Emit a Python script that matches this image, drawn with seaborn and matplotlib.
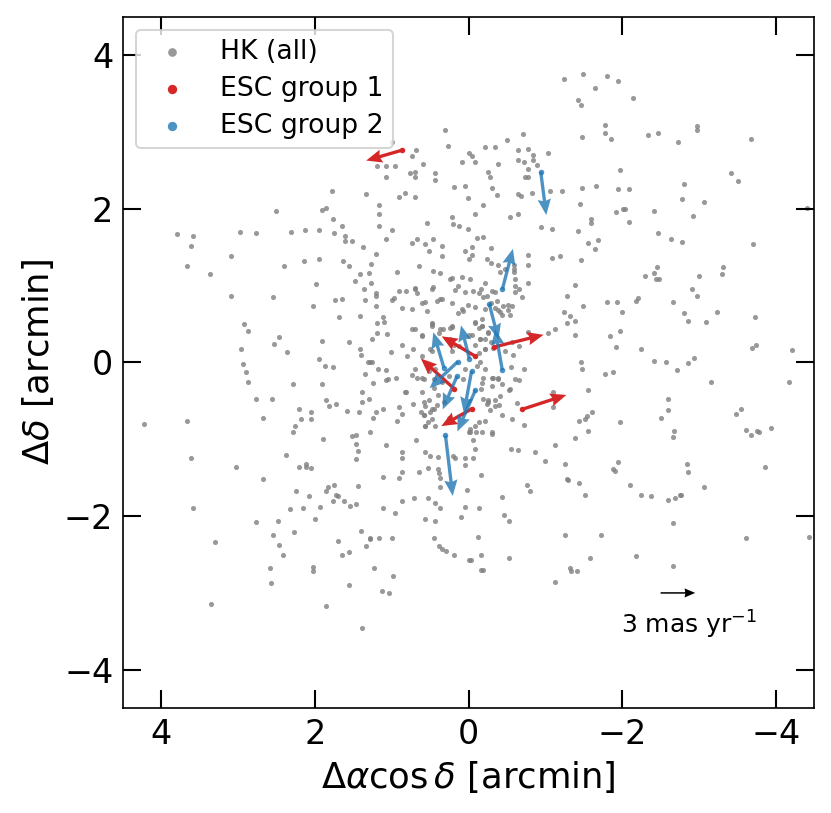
import numpy as np
import seaborn as sns
import matplotlib.pyplot as plt

# HK members (offsets in arcmin)
nw_x = [0.30, 0.27, 0.00, 1.00, 0.68, 0.73, 0.09, 1.19, 1.08, 0.96,
        1.08, 0.76, 0.69, 0.69, 0.59, 0.44, 0.43, 0.19, 0.04, 0.01,
        1.78, 1.33, 0.91, 0.83, 0.69, 1.16, 1.16, 1.16, 0.99, 1.86,
        1.91, 2.50, 1.77, 1.65, 0.54, 0.22, 0.20, 0.12, 0.01, 3.80,
        3.58, 3.61, 2.97, 2.77, 2.31, 2.13, 1.95, 1.75, 1.61, 1.61,
        1.52, 1.37, 1.08, 0.74, 0.67, 0.56, 0.46, 0.34, 0.52, 0.35,
        0.05, 0.00, 3.67, 3.37, 3.09, 2.40, 2.14, 1.95, 1.63, 1.56,
        1.20, 1.27, 1.41, 1.29, 1.27, 1.48, 1.36, 1.98, 0.93, 0.65,
        0.46, 0.37, 0.21, 0.09, 3.09, 2.55, 2.02, 1.74, 1.65, 1.35,
        1.20, 1.20, 1.21, 0.99, 0.97, 0.90, 0.82, 0.69, 0.67, 0.57,
        0.46, 0.37, 0.34, 0.18, 0.04, 0.01, 0.09, 0.14, 0.87, 0.74,
        1.68, 1.41, 1.11, 1.10, 1.19, 0.74, 0.70, 0.47, 0.37, 0.33,
        0.22, 2.92, 2.87, 2.47, 2.53, 1.91, 1.56, 1.26, 1.19, 1.06,
        0.87, 0.72, 1.01, 1.41, 1.40, 1.28, 2.36, 2.96, 1.95,
        0.24, 0.14, 0.69, 0.48, 0.60, 0.41, 0.54, 0.22, 0.07, 0.48,
        0.24, 0.60, 0.48, 0.19, 0.80]
nw_y = [3.03, 2.82, 2.73, 2.87, 2.76, 2.69, 2.61, 2.56, 2.56, 2.55,
        2.41, 2.46, 2.48, 2.41, 2.58, 2.46, 2.37, 2.28, 2.30, 2.14,
        2.23, 2.19, 2.15, 2.21, 2.15, 2.05, 1.93, 1.78, 1.72, 2.01,
        1.98, 1.97, 1.87, 1.77, 1.82, 1.89, 1.80, 1.77, 1.74, 1.67,
        1.64, 1.51, 1.70, 1.69, 1.70, 1.72, 1.72, 1.68, 1.65, 1.58,
        1.58, 1.50, 1.60, 1.55, 1.60, 1.54, 1.60, 1.52, 1.45, 1.39,
        1.45, 1.35, 1.26, 1.15, 1.38, 1.25, 1.32, 1.34, 1.32, 1.26,
        1.41, 1.28, 1.15, 1.16, 1.03, 1.06, 0.96, 1.02, 1.17, 1.25,
        1.19, 1.16, 1.10, 1.11, 0.86, 0.85, 0.74, 0.81, 0.83, 0.81,
        0.90, 0.86, 0.74, 0.81, 0.84, 0.93, 0.93, 0.97, 0.90, 0.78,
        0.98, 0.82, 0.82, 0.94, 0.91, 0.75, 0.70, 0.64, 0.71, 0.70,
        0.59, 0.61, 0.59, 0.53, 0.51, 0.44, 0.43, 0.50, 0.43, 0.44,
        0.46, 0.50, 0.41, 0.33, 0.24, 0.28, 0.26, 0.30, 0.38, 0.37,
        0.22, 0.18, 0.13, 0.18, 0.10, 0.01, 0.13, 0.18, 0.05,
        1.08, 0.99, 0.95, 0.96, 0.77, 0.80, 0.67, 0.77, 0.67, 0.47,
        0.45, 0.34, 0.15, 0.22, 0.08]

ne_x = [-1.24, -1.49, -1.80, -1.95, -1.64, -2.14, -1.43, -1.46, -1.78, -1.77,
        -1.86, -1.48, -2.33, -2.47, -2.73, -2.97, -2.97, -3.67, -0.71, -0.50,
        -0.22, -0.35, -0.04, -0.08, -0.38, -0.65, -0.78, -0.84, -1.03, -0.65,
        -0.72, -0.84, -0.89, -0.78, -0.25, -0.28, -0.73, -0.78, -0.30, -0.37,
        -0.64, -0.68, -0.82, -1.06, -1.22, -1.48, -1.66, -1.95, -2.09, -1.97,
        -2.80, -3.41, -3.51, -2.78, -3.06, -2.92, -2.41, -1.92, -2.01, -2.04,
        -2.09, -1.60, -1.59, -1.45, -1.42, -1.55, -1.65, -1.69, -1.47, -2.47,
        -2.63, -2.78, -3.70, -4.41, -0.94, -1.09, -0.54, -0.64, -0.09, -0.19,
        -0.11, -0.19, -0.29, -0.04, -0.04, -0.24, -0.29, -0.39, -0.41, -0.48,
        -0.59, -0.59, -0.59, -0.61, -0.78, -0.78, -1.09, -1.19, -0.78, -0.60,
        -0.66, -0.70, -0.60, -0.02, -0.06, -0.16, -0.21, -0.19, -0.24, -0.30,
        -0.34, -0.37, -0.39, -0.45, -0.52, -0.43, -0.34, -0.08, -0.09, -0.17,
        -0.01, -0.15, -0.25, -0.29, -0.47, -0.66, -0.77, -1.03, -1.13, -1.28,
        -1.39, -1.49, -1.24, -1.32, -1.39, -1.28, -1.38, -1.80, -1.93, -2.00,
        -2.18, -2.21, -1.84, -1.97, -1.92, -2.25, -2.30, -2.41, -2.45, -2.44,
        -2.48, -2.66, -2.81, -2.86, -2.91, -2.97, -3.00, -3.09, -3.24, -3.31,
        -3.30, -3.73, -3.69, -3.74, -4.21, -2.93, -0.51, -0.56, -0.41, -0.54,
        -0.13, -0.29, -0.21, -0.17, -0.13, -0.21, -0.56, -0.58, -0.21, -0.32,
        -0.09, -0.15]
ne_y = [3.69, 3.75, 3.73, 3.66, 3.57, 3.44, 3.41, 3.35, 3.09, 2.99,
        2.91, 2.93, 2.96, 2.99, 2.87, 3.08, 3.02, 2.91, 2.97, 2.89,
        2.80, 2.80, 2.69, 2.61, 2.58, 2.76, 2.78, 2.70, 2.73, 2.63,
        2.61, 2.64, 2.57, 2.52, 2.48, 2.41, 2.41, 2.41, 2.27, 2.18,
        2.19, 2.16, 2.20, 2.23, 2.23, 2.27, 2.30, 2.25, 2.26, 2.50,
        2.32, 2.47, 2.36, 2.13, 2.09, 1.90, 1.97, 1.96, 1.99, 2.00,
        1.83, 1.87, 1.81, 2.06, 1.71, 1.56, 1.48, 1.59, 1.33, 1.68,
        1.61, 1.57, 1.54, 2.01, 1.76, 1.74, 1.89, 1.93, 1.93, 2.05,
        1.62, 1.63, 1.49, 1.50, 1.40, 1.35, 1.29, 1.27, 1.17, 1.22,
        1.27, 1.22, 1.17, 1.09, 1.40, 1.27, 1.36, 1.38, 1.03, 0.99,
        0.96, 0.85, 0.92, 1.08, 0.93, 0.95, 1.03, 0.85, 0.87, 0.93,
        0.91, 0.80, 0.68, 0.73, 0.68, 0.62, 0.71, 0.72, 0.52, 0.47,
        0.35, 0.30, 0.38, 0.27, 0.15, 0.21, 0.40, 0.38, 0.43, 0.87,
        1.01, 0.74, 0.66, 0.60, 0.54, 0.51, 0.35, 0.79, 0.79, 0.66,
        0.80, 0.84, 0.34, 0.41, 0.20, 0.18, 1.13, 1.16, 1.24, 1.09,
        1.08, 0.78, 0.64, 0.54, 0.96, 0.87, 1.12, 0.53, 0.66, 1.24,
        1.15, 0.59, 0.19, 0.22, 0.16, 0.06, 0.75, 0.74, 0.66, 0.62,
        0.90, 0.77, 0.69, 0.56, 0.45, 0.30, 0.26, 0.10, 0.17, 0.19,
        0.22, 0.00]

sw_x = [2.94, 2.90, 2.87, 2.77, 2.56, 4.22, 3.66, 3.61, 3.59, 3.30,
        3.35, 3.03, 2.67, 2.67, 2.77, 2.54, 2.48, 2.47, 2.42, 2.59,
        2.57, 2.29, 1.91, 1.87, 1.77, 1.85, 1.82, 1.73, 2.21, 2.05,
        2.18, 2.05, 2.26, 2.28, 1.89, 2.37, 2.20, 2.12, 2.12, 2.05,
        2.24, 2.07, 2.16, 2.32, 1.93, 2.00, 2.27, 1.85, 1.83, 1.75,
        1.72, 1.70, 1.77, 1.62, 1.54, 1.47, 1.44, 1.70, 1.65, 1.56,
        2.02, 2.02, 1.85, 1.56, 1.38, 1.40, 1.28, 1.28, 1.34, 1.17,
        0.99, 1.23, 1.13, 1.04, 0.98, 1.58, 1.42, 1.39, 1.38, 1.29,
        1.24, 1.28, 1.20, 1.11, 1.35, 1.31, 1.26, 1.18, 1.07, 1.24,
        1.07, 1.05, 0.95, 0.83, 0.91, 0.86, 0.93, 0.72, 0.70, 0.73,
        0.67, 0.58, 0.45, 0.62, 0.58, 0.53, 0.56, 0.47, 0.58, 0.51,
        0.45, 0.40, 1.47, 1.52, 1.47, 1.44, 1.46, 1.08, 1.11, 0.91,
        0.87, 0.86, 0.86, 0.68, 0.56, 0.50, 0.40, 0.53, 0.40, 0.39,
        0.37, 0.71, 0.53, 0.44, 0.37, 0.87, 0.96, 1.11, 0.57, 0.44,
        0.45, 0.39, 0.34, 0.29, 0.19, -0.01, 0.10, 0.05, 0.02, 0.18,
        0.05, 0.20, -0.01, 0.82, 0.50, 0.44, 0.37, 0.65, 0.04]
sw_y = [-0.02, -0.12, -0.26, -0.47, -0.47, -0.80, -0.76, -1.24, -1.90, -2.34,
        -3.15, -1.36, -0.73, -1.52, -2.08, -2.24, -2.06, -2.37, -2.51, -2.68,
        -2.87, -0.28, -0.28, -0.05, -0.06, -0.49, -0.57, -0.54, -0.61, -0.64,
        -0.74, -0.74, -0.83, -0.90, -1.00, -1.20, -1.36, -1.32, -1.36, -1.38,
        -1.67, -1.74, -1.89, -1.91, -1.88, -2.04, -2.21, -1.67, -1.62, -1.60,
        -1.73, -1.74, -1.81, -1.81, -1.87, -1.84, -1.61, -2.32, -2.51, -2.47,
        -2.66, -2.72, -3.17, -2.90, -3.45, -2.19, -2.28, -2.30, -2.39, -2.29,
        -2.28, -2.67, -2.98, -3.00, -2.78, -0.63, -0.64, -0.38, -0.52, -0.48,
        -0.72, -0.90, -0.64, -0.61, -0.15, 0.00, 0.00, -0.08, -0.10, -0.27,
        -0.23, -0.21, -0.20, -0.38, -0.58, -0.67, -0.76, -0.54, -0.09, -0.17,
        -0.20, -0.21, -0.21, -0.65, -0.68, -0.78, -0.83, -0.74, -0.51, -0.49,
        -0.61, -0.43, -0.94, -0.96, -1.06, -1.15, -1.26, -1.07, -1.49, -1.51,
        -1.16, -1.25, -1.42, -1.01, -1.16, -1.22, -1.23, -1.37, -1.39, -1.44,
        -1.62, -1.77, -1.77, -1.83, -1.90, -1.80, -1.96, -1.90, -2.04, -2.07,
        -2.28, -2.39, -2.43, -2.46, -2.50, -2.57, -2.01, -1.88, -1.66, -1.25,
        -1.34, -1.22, -0.91, -0.39, -0.65, -0.83, -1.50, -1.43, -1.24]

se_x = [-1.47, -1.48, -1.77, -1.88, -2.41, -2.57, -2.71, -2.85, -3.16, -4.17,
        -1.55, -1.10, -1.10, -0.63, -0.40, -0.72, -0.66, -0.72, -0.55, -0.53,
        -0.44, -0.31, -0.38, -0.17, -0.16, -0.19, -0.24, -0.26, -0.34, -0.28,
        -0.14, -0.02, -0.10, -0.31, -0.31, -0.06, -0.09, -0.06, -0.16, -0.55,
        -0.64, -0.86, -1.00, -1.12, -1.25, -1.39, -1.28, -1.29, -1.44, -0.76,
        -0.80, -0.43, -0.46, -0.53, -0.13, -0.12, -0.03, -0.16, -0.16, -0.19,
        -0.53, -1.25, -1.32, -1.34, -1.41, -1.12, -1.58, -1.73, -1.52, -1.44,
        -1.52, -1.54, -1.61, -1.55, -1.97, -1.88, -1.90, -1.95, -2.10, -2.25,
        -2.38, -2.59, -2.69, -2.75, -2.77, -3.07, -2.66, -2.18, -2.66, -2.50,
        -2.60, -2.59, -2.67, -2.66, -2.84, -2.86, -3.48, -3.54, -3.61, -3.67,
        -3.75, -3.78, -3.94, -3.86, -3.61, -4.43]
se_y = [0.00, -0.08, -0.15, -0.12, 0.02, 0.01, -0.10, -0.01, -0.26, -0.26,
        -0.36, -0.39, -0.58, -0.53, -0.56, -0.81, -0.23, -0.09, -0.06, -0.36,
        -0.28, -0.20, -0.20, -0.27, -0.34, -0.48, -0.54, -0.49, -0.49, -0.62,
        -0.77, -0.90, -0.90, -0.91, -0.93, -1.01, -1.13, -1.24, -1.47, -1.13,
        -1.14, -1.16, -1.28, -1.07, -1.32, -0.99, -1.52, -1.53, -1.57, -1.60,
        -1.68, -1.75, -1.98, -2.06, -1.89, -2.27, -2.57, -2.50, -2.70, -2.70,
        -2.55, -2.25, -2.67, -2.71, -2.72, -2.86, -2.55, -2.25, -1.73, -0.76,
        -0.74, -0.70, -0.64, -0.89, -0.77, -1.39, -1.41, -1.30, -1.60, -1.73,
        -1.74, -1.79, -1.77, -1.73, -1.73, -1.62, -2.09, -2.52, -2.65, -0.73,
        -0.47, -0.62, -0.89, -0.97, -1.32, -1.43, -0.67, -0.61, -0.88, -0.94,
        -0.89, -0.90, -0.85, -1.36, -2.28, -2.27]

core_x = [0.47, 0.22, -0.09, -0.17, -0.26, 0.61, 0.39, -0.04, 0.24, -0.15,
          -0.22, 0.50, 0.60, 0.22, 0.52, 0.43, 0.60, 0.04, 0.07, -0.11,
          -0.22, -0.19, -0.32, -0.39, -0.30, -0.54, -0.60, -0.41, -0.26, -0.34,
          -0.43, -0.22, -0.09, 0.56, 0.47, 0.58, 0.41, 0.32, 0.60, 0.56,
          0.26, -0.02, -0.17, -0.56, 0.13, 0.45, 0.35, 0.26, -0.13]
core_y = [0.51, 0.47, 0.51, 0.48, 0.39, 0.36, 0.38, 0.36, 0.30, 0.30,
          0.17, 0.17, 0.08, 0.15, -0.11, -0.09, -0.20, -0.09, -0.22, -0.05,
          -0.09, -0.20, -0.20, -0.22, -0.31, -0.35, -0.22, -0.44, -0.52, -0.57,
          -0.68, -0.76, -0.83, -0.57, -0.61, -0.68, -0.55, -0.52, -0.39, -0.83,
          -0.72, -0.87, -0.91, -0.74, 0.21, -0.33, -0.26, -0.18, 0.12]

hk_x = nw_x + ne_x + sw_x + se_x + core_x
hk_y = nw_y + ne_y + sw_y + se_y + core_y

# escaping stars: position (arcmin) and proper motion (mas/yr)
esc1_x = [0.87, -0.09, 0.19, -0.33, -0.70, -0.05]
esc1_y = [2.76, 0.08, -0.34, 0.20, -0.61, -0.60]
esc1_pmx = [3.08, 2.93, 2.87, -4.31, -3.82, 2.70]
esc1_pmy = [-0.89, 1.73, 2.60, 1.06, 1.24, -1.53]

esc2_x = [-0.94, -0.44, -0.27, -0.44, 0.32, -0.01, 0.14, 0.15, -0.04, -0.09, 0.30]
esc2_y = [2.48, 0.95, 0.76, -0.10, -0.07, 0.05, 0.01, -0.18, -0.11, -0.36, -0.95]
esc2_pmx = [-0.48, -0.92, -0.80, 0.63, 0.92, 0.72, 2.44, 1.24, 0.67, 1.57, -0.63]
esc2_pmy = [-3.75, 3.52, -3.09, 3.55, 3.08, 2.88, -2.31, -2.88, -3.66, -3.59, -5.25]

arcmin_per_mas = 0.15

# scale arrow: 3 mas/yr, drawn at (-2.5, -3.0)
key_pm = 3
key_x, key_y = -2.5, -3.0

fig = plt.figure(figsize=(5.54, 5.42), dpi=150)
ax = fig.add_axes([0.1477, 0.1289, 0.8322, 0.8507])

sns.scatterplot(x=hk_x, y=hk_y, color='gray', alpha=0.8, s=6, linewidth=0,
                label='HK (all)', ax=ax, zorder=1)

qkw = dict(angles='xy', scale_units='xy', scale=1 / arcmin_per_mas)
arrow_kw = dict(width=0.0048, headwidth=4, headlength=4.8, headaxislength=4.3)
ax.quiver(esc1_x, esc1_y, esc1_pmx, esc1_pmy, color='tab:red', zorder=2,
          **qkw, **arrow_kw)
ax.quiver(esc2_x, esc2_y, esc2_pmx, esc2_pmy, color='tab:blue', alpha=0.8,
          zorder=2, **qkw, **arrow_kw)

sns.scatterplot(x=esc1_x, y=esc1_y, color='tab:red', s=7, linewidth=0,
                label='ESC group 1', ax=ax, zorder=3)
sns.scatterplot(x=esc2_x, y=esc2_y, color='tab:blue', alpha=0.8, s=7, linewidth=0,
                label='ESC group 2', ax=ax, zorder=3)

# key arrow points to the right (negative x on the flipped axis)
ax.quiver([key_x], [key_y], [-key_pm], [0], color='k', width=0.0022,
          headwidth=6, headlength=7, headaxislength=6.5, zorder=2, **qkw)
ax.text(key_x - 0.37, key_y - 0.2, r'%d mas yr$^{-1}$' % key_pm,
        ha='center', va='top', fontsize=12)

ax.set_xlim(4.5, -4.5)
ax.set_ylim(-4.5, 4.5)
ax.set_xticks([-4, -2, 0, 2, 4])
ax.set_yticks([-4, -2, 0, 2, 4])
ax.tick_params(direction='in', top=True, right=True, length=8.6, width=1,
               labelsize=16, pad=4.5)
ax.set_xlabel(r'$\Delta\alpha\cos\delta$ [arcmin]', fontsize=17)
ax.set_ylabel(r'$\Delta\delta$ [arcmin]', fontsize=17)
ax.legend(loc='upper left', fontsize=12.8, markerscale=1.7,
          labelspacing=0.4, borderpad=0.35)

fig.savefig('out.png', dpi=150)
